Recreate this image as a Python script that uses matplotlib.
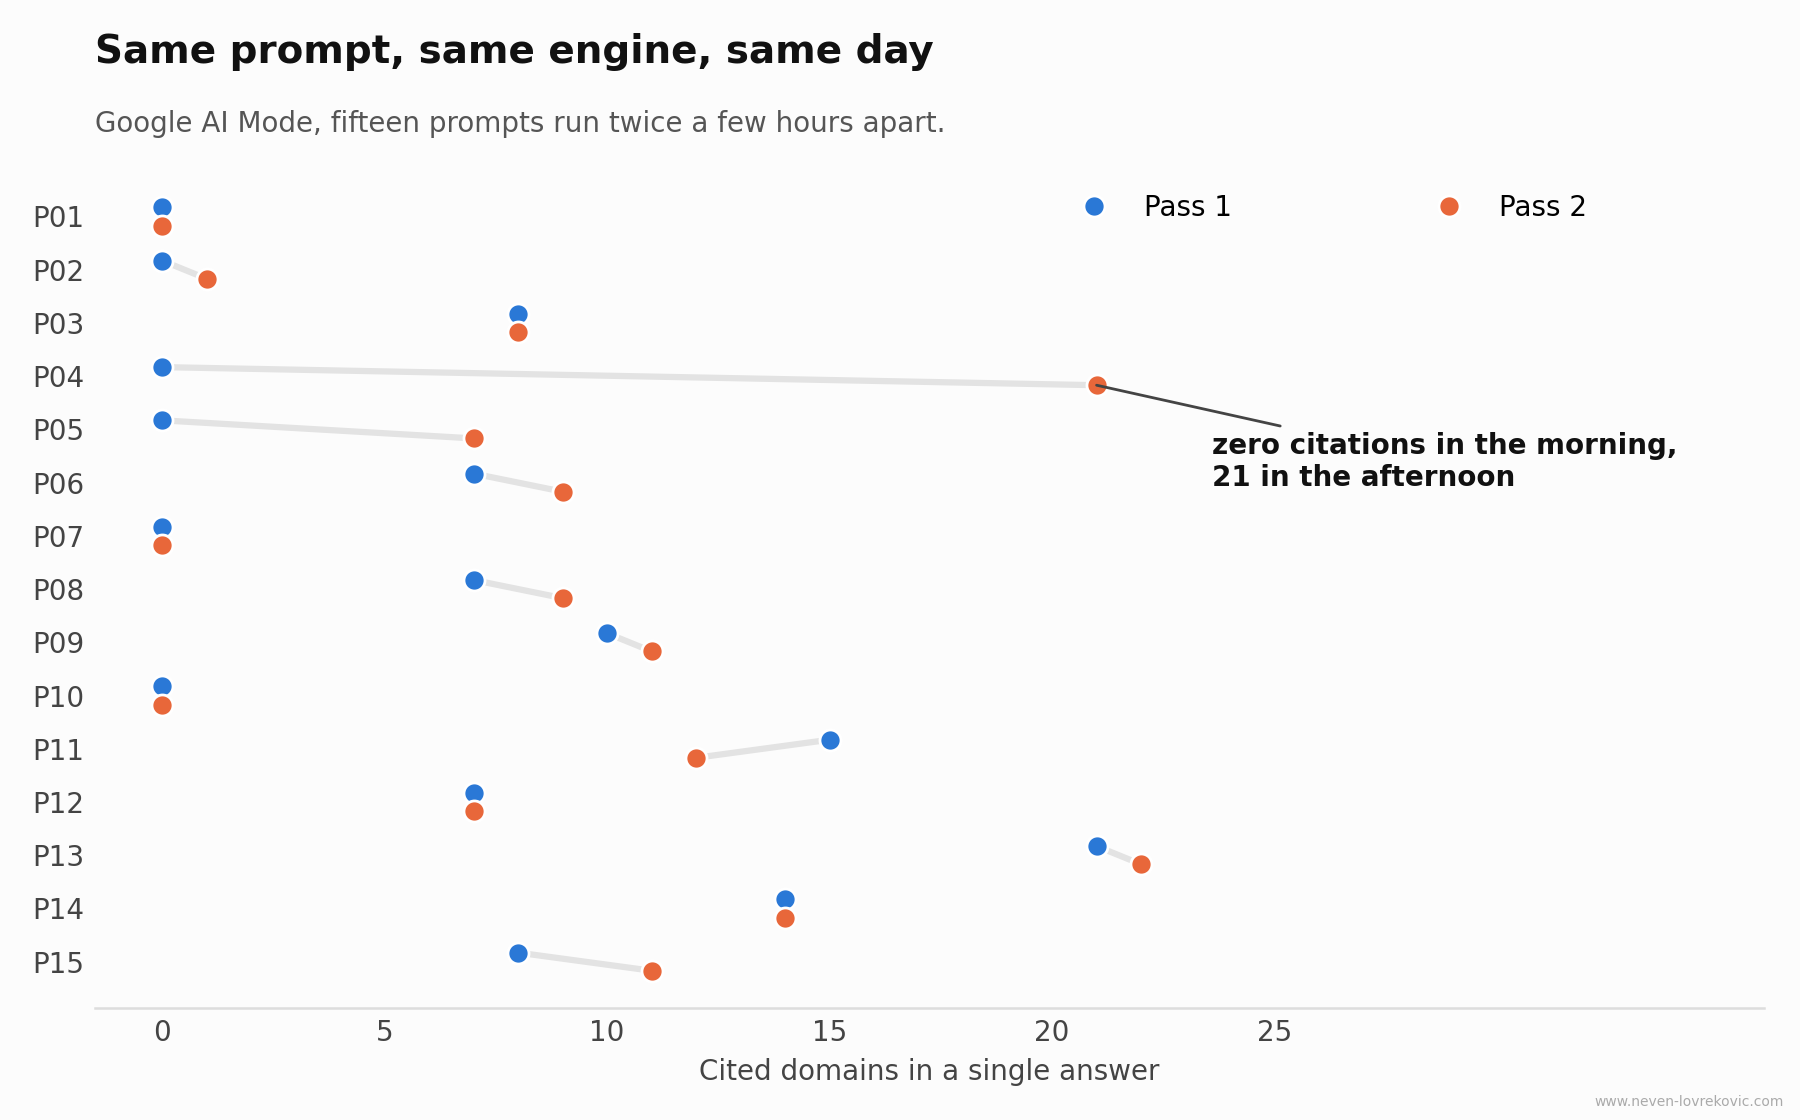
import numpy as np
import matplotlib
matplotlib.use("Agg")
import matplotlib.pyplot as plt

prompts = ["P01", "P02", "P03", "P04", "P05", "P06", "P07", "P08",
           "P09", "P10", "P11", "P12", "P13", "P14", "P15"]
pass1 = [0, 0, 8, 0, 0, 7, 0, 7, 10, 0, 15, 7, 21, 14, 8]
pass2 = [0, 1, 8, 21, 7, 9, 0, 9, 11, 0, 12, 7, 22, 14, 11]
xticks = [0, 5, 10, 15, 20, 25]

blue = "#2a78d6"
orange = "#e8673a"
bg = "#fcfcfc"

fig = plt.figure(figsize=(18, 11.2), dpi=100, facecolor=bg)
ax = fig.add_axes([0.053, 0.10, 0.927, 0.74])
ax.set_facecolor(bg)

y = np.arange(len(prompts))
off = 0.17

# connectors
for i in range(len(prompts)):
    ax.plot([pass1[i], pass2[i]], [y[i] - off, y[i] + off], color="#e3e3e3",
            lw=4.5, solid_capstyle="round", zorder=1)

ax.scatter(pass1, y - off, s=230, color=blue, edgecolor="white", linewidth=2,
           zorder=3, label="Pass 1")
ax.scatter(pass2, y + off, s=230, color=orange, edgecolor="white", linewidth=2,
           zorder=3, label="Pass 2")

ax.set_xlim(-1.5, 36)
ax.set_ylim(14.87, -0.7)
ax.set_yticks(y)
ax.set_yticklabels(prompts)
ax.set_xticks(xticks)
ax.tick_params(length=0, labelsize=20, labelcolor="#444444")
ax.tick_params(axis="x", pad=8)
ax.tick_params(axis="y", pad=8)
for s in ["top", "right", "left"]:
    ax.spines[s].set_visible(False)
ax.spines["bottom"].set_color("#dddddd")
ax.spines["bottom"].set_linewidth(1.8)
ax.set_xlabel("Cited domains in a single answer", fontsize=20, color="#444444",
              labelpad=8)

leg = ax.legend(loc="center left", bbox_to_anchor=(0.567, 0.965),
                ncol=2, frameon=False, fontsize=20,
                handletextpad=0.8, columnspacing=6.8, scatteryoffsets=[0.5])

ax.annotate("zero citations in the morning,\n21 in the afternoon",
            xy=(pass2[3], y[3] + off), xytext=(23.6, 4.05),
            fontsize=20, fontweight="bold", color="#111111",
            ha="left", va="top",
            arrowprops=dict(arrowstyle="-", color="#444444", lw=2,
                            relpos=(0.146, 1.1), shrinkA=0, shrinkB=0))

fig.text(0.053, 0.954, "Same prompt, same engine, same day", fontsize=28,
         fontweight="bold", color="#111111", va="center")
fig.text(0.053, 0.889, "Google AI Mode, fifteen prompts run twice a few hours apart.",
         fontsize=20, color="#555555", va="center")
fig.text(0.991, 0.016, "www.neven-lovrekovic.com", fontsize=10, color="#aaaaaa",
         ha="right", va="center")

fig.savefig("out.png", dpi=100, facecolor=bg)
